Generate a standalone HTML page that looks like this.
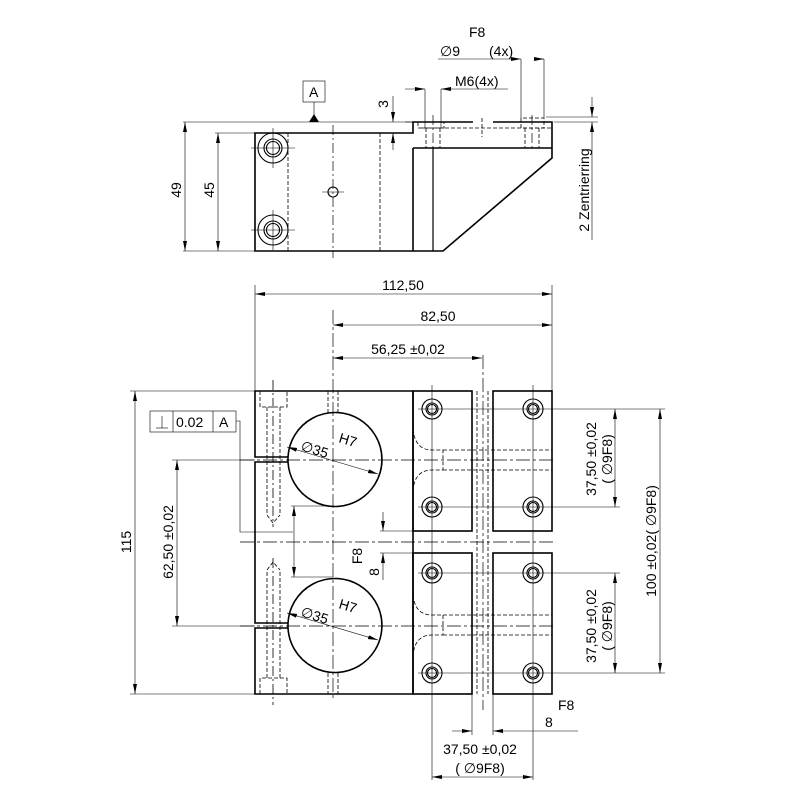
<!DOCTYPE html>
<html><head><style>html,body{margin:0;padding:0;background:#fff}svg{display:block}text{font-family:"Liberation Sans",sans-serif;font-size:14px;fill:#000}</style></head>
<body>
<svg width="800" height="800" viewBox="0 0 800 800" xmlns="http://www.w3.org/2000/svg">
<defs>
<marker id="a" viewBox="0 0 10 4" refX="10" refY="2" markerWidth="10" markerHeight="4" orient="auto-start-reverse" markerUnits="userSpaceOnUse"><path d="M0,0L10,2L0,4z" fill="#000"/></marker>
</defs>
<g fill="none" stroke="#000">
<g stroke-width="1.6">
<path d="M255,133H413V122H552V158L443,251H255Z"/>
<line x1="413" y1="148" x2="413" y2="251"/>
<line x1="413" y1="148" x2="552" y2="148"/>
</g>
<line x1="433" y1="148" x2="433" y2="251" stroke-width="1.2"/>
<line x1="473" y1="122" x2="493" y2="122" stroke="#fff" stroke-width="3"/>
<g stroke-width="0.8" stroke-dasharray="4,2">
<line x1="288" y1="133" x2="288" y2="251"/><line x1="380" y1="133" x2="380" y2="251"/>
<path d="M418,122V128H444V122"/><line x1="426" y1="128" x2="426" y2="148"/><line x1="440" y1="128" x2="440" y2="148"/>
<path d="M521,118V128H544V118H521"/><line x1="525" y1="128" x2="525" y2="148"/><line x1="539" y1="128" x2="539" y2="148"/>
<line x1="421" y1="128" x2="552" y2="128"/>
<line x1="482" y1="118" x2="482" y2="137"/>
</g>
<g stroke-width="0.7" stroke-dasharray="10,3,2,3">
<line x1="333" y1="125" x2="333" y2="258"/>
<line x1="433" y1="115" x2="433" y2="148"/><line x1="532" y1="115" x2="532" y2="148"/>
</g>
<g stroke-width="1.1">
<circle cx="273" cy="148" r="15"/><circle cx="273" cy="148" r="9"/><circle cx="273" cy="148" r="6.5"/>
<circle cx="273" cy="230" r="15"/><circle cx="273" cy="230" r="9"/><circle cx="273" cy="230" r="6.5"/>
<circle cx="333" cy="192" r="5"/>
</g>
<g stroke-width="0.6">
<line x1="251" y1="148" x2="295" y2="148"/><line x1="273" y1="128" x2="273" y2="168"/>
<line x1="251" y1="230" x2="295" y2="230"/><line x1="273" y1="210" x2="273" y2="250"/>
<line x1="322" y1="192" x2="344" y2="192"/>
<line x1="183" y1="122" x2="413" y2="122"/><line x1="215" y1="133" x2="255" y2="133"/>
<line x1="183" y1="251" x2="255" y2="251"/>
<line x1="185" y1="122" x2="185" y2="251" marker-start="url(#a)" marker-end="url(#a)"/>
<line x1="218" y1="133" x2="218" y2="251" marker-start="url(#a)" marker-end="url(#a)"/>
<rect x="303" y="81" width="22" height="21"/><line x1="314" y1="102" x2="314" y2="115"/>
<line x1="393" y1="96" x2="393" y2="122" marker-end="url(#a)"/><line x1="393" y1="133" x2="393" y2="150" marker-start="url(#a)"/>
<line x1="390" y1="133" x2="413" y2="133"/><line x1="405" y1="122" x2="413" y2="122"/>
<line x1="425" y1="89" x2="425" y2="128"/><line x1="441" y1="89" x2="441" y2="128"/>
<line x1="405" y1="89" x2="425" y2="89" marker-end="url(#a)"/><line x1="441" y1="89" x2="508" y2="89" marker-start="url(#a)"/>
<line x1="521" y1="59" x2="521" y2="118"/><line x1="544" y1="59" x2="544" y2="118"/>
<line x1="438" y1="59" x2="521" y2="59" marker-end="url(#a)"/>
<path d="M534,59H544" marker-end="url(#a)"/>
<line x1="546" y1="117" x2="598" y2="117"/><line x1="554" y1="122" x2="598" y2="122"/>
<line x1="592" y1="97" x2="592" y2="117" marker-end="url(#a)"/><line x1="592" y1="122" x2="592" y2="240" marker-start="url(#a)"/>
</g>
<path d="M309,122L314,114L319,122Z" fill="#000" stroke="none"/>

<g stroke-width="1.6">
<path d="M413,391H255V457H288"/><path d="M288,462H255V623H288"/><path d="M288,628H255V694H413"/>
<line x1="413" y1="391" x2="413" y2="694"/>
<path d="M288,457A47,47 0 1,1 288,462M288,457V462"/>
<path d="M288,623A47,47 0 1,1 288,628M288,623V628"/>
<rect x="413" y="391" width="59" height="140"/><rect x="493" y="391" width="59" height="140"/>
<rect x="413" y="553" width="59" height="141"/><rect x="493" y="553" width="59" height="141"/>
</g>
<g stroke-width="0.8" stroke-dasharray="4,2">
<path d="M260,391V407H287V391"/><line x1="267" y1="407" x2="267" y2="515"/><line x1="280" y1="407" x2="280" y2="515"/>
<path d="M267,515L273,523L280,515"/><line x1="273" y1="380" x2="273" y2="527" stroke-dasharray="10,3,2,3"/>
<path d="M260,694V678H287V694"/><line x1="267" y1="678" x2="267" y2="570"/><line x1="280" y1="678" x2="280" y2="570"/>
<path d="M267,570L273,562L280,570"/><line x1="273" y1="558" x2="273" y2="705" stroke-dasharray="10,3,2,3"/>
<line x1="328" y1="391" x2="328" y2="413"/><line x1="338" y1="391" x2="338" y2="413"/>
<line x1="328" y1="673" x2="328" y2="694"/><line x1="338" y1="673" x2="338" y2="694"/>
<path d="M413,429Q415,450 432,450H443V470H432Q415,470 413,490"/>
<line x1="443" y1="450" x2="552" y2="450"/><line x1="443" y1="470" x2="552" y2="470"/>
<path d="M413,595Q415,615 432,615H443V635H432Q415,635 413,655"/>
<line x1="443" y1="615" x2="552" y2="615"/><line x1="443" y1="635" x2="552" y2="635"/>
<line x1="477" y1="391" x2="477" y2="694"/><line x1="488" y1="391" x2="488" y2="694"/>
</g>
<g stroke-width="0.7" stroke-dasharray="14,3,3,3">
<line x1="240" y1="460" x2="555" y2="460"/><line x1="240" y1="626" x2="555" y2="626"/>
<line x1="240" y1="542" x2="555" y2="542"/>
<line x1="333" y1="310" x2="333" y2="700"/><line x1="483" y1="355" x2="483" y2="710"/>
</g>
<g stroke-width="1.1">
<g id="h"><circle cx="432" cy="409" r="10"/><circle cx="432" cy="409" r="6"/><circle cx="432" cy="409" r="4.5"/></g>
<use href="#h" x="0" y="98"/><use href="#h" x="0" y="164"/><use href="#h" x="0" y="264"/>
<use href="#h" x="101" y="0"/><use href="#h" x="101" y="98"/><use href="#h" x="101" y="164"/><use href="#h" x="101" y="264"/>
</g>
<g stroke-width="0.6">
<line x1="432" y1="385" x2="432" y2="780"/><line x1="533" y1="385" x2="533" y2="780"/>
<line x1="418" y1="409" x2="665" y2="409"/><line x1="418" y1="507" x2="620" y2="507"/>
<line x1="418" y1="573" x2="620" y2="573"/><line x1="418" y1="673" x2="665" y2="673"/>
<line x1="615" y1="409" x2="615" y2="507" marker-start="url(#a)" marker-end="url(#a)"/>
<line x1="615" y1="573" x2="615" y2="673" marker-start="url(#a)" marker-end="url(#a)"/>
<line x1="660" y1="409" x2="660" y2="673" marker-start="url(#a)" marker-end="url(#a)"/>
<line x1="432" y1="777" x2="533" y2="777" marker-start="url(#a)" marker-end="url(#a)"/>
<line x1="472" y1="694" x2="472" y2="735"/><line x1="493" y1="694" x2="493" y2="735"/>
<line x1="452" y1="731" x2="472" y2="731" marker-end="url(#a)"/><line x1="493" y1="731" x2="578" y2="731" marker-start="url(#a)"/>
<line x1="255" y1="285" x2="255" y2="391"/><line x1="552" y1="285" x2="552" y2="391"/>
<line x1="255" y1="294" x2="552" y2="294" marker-start="url(#a)" marker-end="url(#a)"/>
<line x1="333" y1="325" x2="552" y2="325" marker-start="url(#a)" marker-end="url(#a)"/>
<line x1="333" y1="358" x2="482" y2="358" marker-start="url(#a)" marker-end="url(#a)"/>
<line x1="130" y1="391" x2="255" y2="391"/><line x1="130" y1="694" x2="255" y2="694"/>
<line x1="135" y1="391" x2="135" y2="694" marker-start="url(#a)" marker-end="url(#a)"/>
<line x1="172" y1="460" x2="255" y2="460"/><line x1="172" y1="626" x2="255" y2="626"/>
<line x1="177" y1="460" x2="177" y2="626" marker-start="url(#a)" marker-end="url(#a)"/>
<rect x="150" y="411" width="86" height="21"/><line x1="173" y1="411" x2="173" y2="432"/><line x1="213" y1="411" x2="213" y2="432"/>
<line x1="156" y1="428" x2="168" y2="428"/><line x1="162" y1="416" x2="162" y2="428"/>
<path d="M236,421H240V532H293"/>
<line x1="291" y1="506" x2="333" y2="506"/><line x1="291" y1="577" x2="333" y2="577"/>
<line x1="294" y1="506" x2="294" y2="577" marker-start="url(#a)" marker-end="url(#a)"/>
<line x1="383" y1="512" x2="383" y2="531" marker-end="url(#a)"/><line x1="383" y1="553" x2="383" y2="580" marker-start="url(#a)"/>
<line x1="380" y1="531" x2="413" y2="531"/><line x1="380" y1="553" x2="413" y2="553"/>
<line x1="287" y1="447" x2="378" y2="474" marker-start="url(#a)" marker-end="url(#a)"/>
<line x1="287" y1="613" x2="378" y2="640" marker-start="url(#a)" marker-end="url(#a)"/>
</g>
</g>
<text x="469" y="37">F8</text>
<text x="440" y="56">∅9</text><text x="489" y="56">(4x)</text>
<text x="455" y="86">M6(4x)</text>
<text x="309" y="97">A</text>
<text transform="translate(388,104) rotate(-90)" text-anchor="middle">3</text>
<text transform="translate(181,190) rotate(-90)" text-anchor="middle">49</text>
<text transform="translate(214,190) rotate(-90)" text-anchor="middle">45</text>
<text transform="translate(589,190) rotate(-90)" text-anchor="middle">2 Zentrierring</text>
<text x="403" y="290" text-anchor="middle">112,50</text>
<text x="438" y="321" text-anchor="middle">82,50</text>
<text x="408" y="354" text-anchor="middle">56,25 ±0,02</text>
<text transform="translate(131,542) rotate(-90)" text-anchor="middle">115</text>
<text transform="translate(173,542) rotate(-90)" text-anchor="middle">62,50 ±0,02</text>
<text x="176" y="427">0.02</text><text x="219" y="427">A</text>
<text transform="translate(300,450) rotate(17)">∅35</text><text transform="translate(338,442) rotate(17)">H7</text>
<text transform="translate(300,616) rotate(17)">∅35</text><text transform="translate(338,608) rotate(17)">H7</text>
<text transform="translate(362,556) rotate(-90)" text-anchor="middle">F8</text>
<text transform="translate(379,572) rotate(-90)" text-anchor="middle">8</text>
<text transform="translate(596,459) rotate(-90)" text-anchor="middle">37,50 ±0,02</text>
<text transform="translate(612,459) rotate(-90)" text-anchor="middle">( ∅9F8)</text>
<text transform="translate(596,626) rotate(-90)" text-anchor="middle">37,50 ±0,02</text>
<text transform="translate(612,626) rotate(-90)" text-anchor="middle">( ∅9F8)</text>
<text transform="translate(656,541) rotate(-90)" text-anchor="middle">100 ±0,02( ∅9F8)</text>
<text x="558" y="710">F8</text><text x="545" y="727">8</text>
<text x="480" y="754" text-anchor="middle">37,50 ±0,02</text>
<text x="480" y="773" text-anchor="middle">( ∅9F8)</text>
</svg>
</body></html>
